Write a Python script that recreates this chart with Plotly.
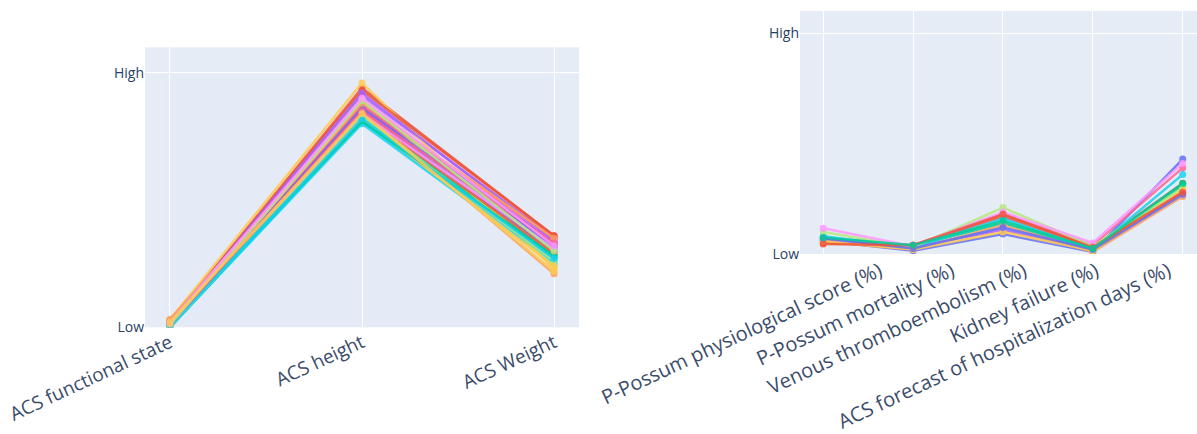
import plotly.graph_objects as go

palette = ["#636efa", "#EF553B", "#00cc96", "#ab63fa", "#FFA15A",
           "#19d3f3", "#FF6692", "#B6E880", "#FF97FF", "#FECB52"]

left_categories = ["ACS functional state", "ACS height", "ACS Weight"]
left_functional = [0.01, 0.02, 0.00, 0.02, 0.03, 0.00, 0.01, 0.01, 0.02, 0.03,
                   0.01, 0.02, 0.00, 0.01, 0.03, 0.00, 0.02, 0.00, 0.01, 0.02,
                   0.01, 0.02, 0.01, 0.02, 0.03, 0.00, 0.01, 0.01, 0.02, 0.02]
left_height = [0.87, 0.94, 0.83, 0.91, 0.89, 0.80, 0.86, 0.90, 0.88, 0.96,
               0.85, 0.84, 0.82, 0.88, 0.85, 0.81, 0.87, 0.83, 0.84, 0.82,
               0.86, 0.93, 0.81, 0.92, 0.88, 0.82, 0.85, 0.89, 0.90, 0.84]
left_weight = [0.31, 0.36, 0.28, 0.35, 0.33, 0.25, 0.32, 0.24, 0.34, 0.23,
               0.30, 0.29, 0.27, 0.33, 0.21, 0.26, 0.35, 0.26, 0.31, 0.24,
               0.32, 0.36, 0.28, 0.34, 0.35, 0.27, 0.33, 0.30, 0.32, 0.22]

right_categories = ["P-Possum physiological score (%)", "P-Possum mortality (%)",
                    "Venous thromboembolism (%)", "Kidney failure (%)",
                    "ACS forecast of hospitalization days (%)"]
right_physio = [0.060, 0.050, 0.070, 0.060, 0.055, 0.080, 0.065, 0.100, 0.117, 0.060, 0.070, 0.045, 0.075]
right_mortality = [0.015, 0.040, 0.035, 0.030, 0.020, 0.030, 0.040, 0.030, 0.035, 0.020, 0.025, 0.040, 0.040]
right_vte = [0.090, 0.170, 0.140, 0.110, 0.130, 0.160, 0.180, 0.210, 0.190, 0.100, 0.120, 0.180, 0.150]
right_kidney = [0.010, 0.030, 0.020, 0.015, 0.010, 0.020, 0.040, 0.035, 0.050, 0.015, 0.020, 0.030, 0.025]
right_hosp = [0.43, 0.32, 0.31, 0.28, 0.26, 0.36, 0.39, 0.30, 0.41, 0.29, 0.27, 0.28, 0.32]

y_tickvals = [0, 1]
y_ticktext = ["Low", "High"]

fig = go.Figure()
for i in range(len(left_height)):
    fig.add_trace(go.Scatter(
        x=left_categories,
        y=[left_functional[i], left_height[i], left_weight[i]],
        mode="lines+markers", xaxis="x", yaxis="y",
        line=dict(color=palette[i % 10], width=2.5),
        marker=dict(size=7), opacity=0.85, showlegend=False))
for i in range(len(right_hosp)):
    fig.add_trace(go.Scatter(
        x=right_categories,
        y=[right_physio[i], right_mortality[i], right_vte[i], right_kidney[i], right_hosp[i]],
        mode="lines+markers", xaxis="x2", yaxis="y2",
        line=dict(color=palette[i % 10], width=2.5),
        marker=dict(size=7), opacity=0.85, showlegend=False))
# empty trace so that the label axis of the right panel gets drawn
fig.add_trace(go.Scatter(x=[None], y=[None], xaxis="x3", yaxis="y2",
                         mode="markers", showlegend=False, hoverinfo="skip"))

W, H = 1197, 434
label_color = "#3b4c6b"
fig.update_layout(
    width=W, height=H, margin=dict(l=0, r=0, t=0, b=0, pad=0),
    template="plotly", font=dict(family="Open Sans", color="#2a3f5f"),
    xaxis=dict(domain=[145 / W, 579 / W], range=[-0.13, 2.13], type="category",
               tickangle=-25, tickfont=dict(size=19, color=label_color), anchor="y",
               automargin=False),
    yaxis=dict(domain=[(H - 327.3) / H, (H - 47.3) / H], range=[0, 1.1],
               tickvals=y_tickvals, ticktext=y_ticktext, tickfont=dict(size=14),
               anchor="x", zeroline=False, automargin=False),
    xaxis2=dict(domain=[800 / W, 1.0], range=[-0.259, 4.159], type="category",
                showticklabels=False, anchor="y2", automargin=False),
    xaxis3=dict(domain=[800 / W, 1.0], range=[-1.10, 4.40], overlaying="x2",
                anchor="y2", showgrid=False, zeroline=False, showline=False,
                type="linear", tickmode="array",
                tickvals=list(range(len(right_categories))),
                ticktext=right_categories, tickangle=-25, ticklabelstandoff=1,
                tickfont=dict(size=20, color=label_color), automargin=False),
    yaxis2=dict(domain=[(H - 254) / H, (H - 11) / H], range=[0, 1.1],
                tickvals=y_tickvals, ticktext=y_ticktext, tickfont=dict(size=14),
                anchor="x2", zeroline=False, automargin=False),
)
fig.write_html("out.html")
